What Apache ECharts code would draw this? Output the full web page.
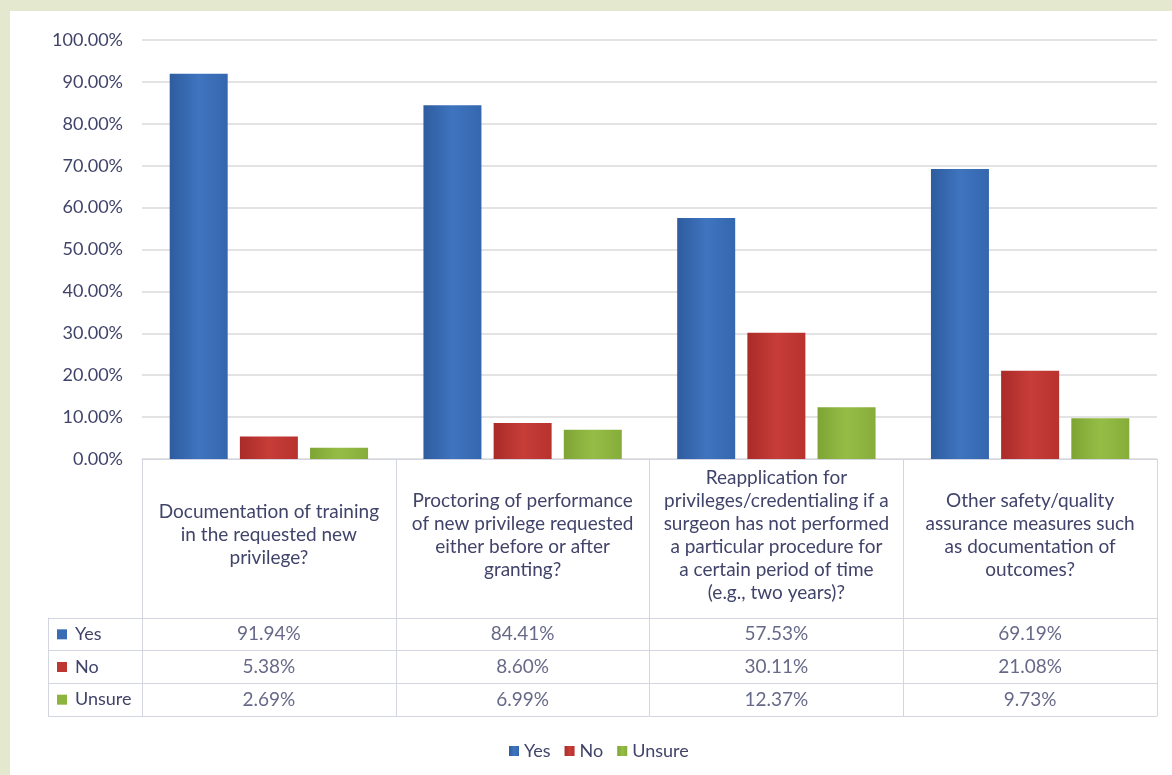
<!DOCTYPE html>
<html>
<head>
<meta charset="utf-8">
<script src="https://cdn.jsdelivr.net/npm/echarts@6/dist/echarts.min.js"></script>
<style>
  html, body { margin: 0; padding: 0; background: #e3e8cf; }
  #chart { position: absolute; left: 10px; top: 11px; width: 1162px; height: 764px; background: #ffffff; }
</style>
</head>
<body>
<div id="chart"></div>
<script>
// Survey questions (category header cells, wrapped as printed)
const categories = [
  'Documentation of training\nin the requested new\nprivilege?',
  'Proctoring of performance\nof new privilege requested\neither before or after\ngranting?',
  'Reapplication for\nprivileges/credentialing if a\nsurgeon has not performed\na particular procedure for\na certain period of time\n(e.g., two years)?',
  'Other safety/quality\nassurance measures such\nas documentation of\noutcomes?'
];
const seriesNames = ['Yes', 'No', 'Unsure'];
const yesValues = [91.94, 84.41, 57.53, 69.19];
const noValues = [5.38, 8.60, 30.11, 21.08];
const unsureValues = [2.69, 6.99, 12.37, 9.73];
const yTicks = [0, 10, 20, 30, 40, 50, 60, 70, 80, 90, 100];

const seriesValues = [yesValues, noValues, unsureValues];
const colors = ['#3a6cb4', '#be3632', '#8cb43e'];
const gradients = [
  ['#2e5c9f', '#3f74bf', '#3467ae'],
  ['#a92b28', '#c73d38', '#b8322e'],
  ['#7ea534', '#95bd46', '#86ad3a']
];
const textColor = '#41446a';
const borderColor = '#d3d6e0';
const fontFamily = 'Lato, "Open Sans", sans-serif';
const fmt = v => v.toFixed(2) + '%';

const chart = echarts.init(document.getElementById('chart'));

const barSeries = seriesNames.map((name, i) => ({
  name: name,
  type: 'bar',
  xAxisIndex: 0,
  yAxisIndex: 0,
  barWidth: 58,
  barGap: '21%',
  data: seriesValues[i],
  itemStyle: {
    color: new echarts.graphic.LinearGradient(0, 0, 1, 0, [
      { offset: 0, color: gradients[i][0] },
      { offset: 0.5, color: gradients[i][1] },
      { offset: 1, color: gradients[i][2] }
    ])
  }
}));

// Data table under the chart: one text cell per value
const tableData = [];
seriesValues.forEach((vals, r) => {
  vals.forEach((v, c) => tableData.push([c, r, v]));
});

const rich = {};
seriesNames.forEach((n, i) => {
  rich['s' + i] = { width: 10, height: 10, backgroundColor: colors[i] };
});
rich.t = { fontSize: 18, color: textColor, fontFamily: fontFamily, padding: [0, 0, 0, 8] };

chart.setOption({
  animation: false,
  textStyle: { fontFamily: fontFamily },
  legend: {
    data: seriesNames,
    left: 494,
    top: 726,
    icon: 'rect',
    itemWidth: 10,
    itemHeight: 10,
    itemGap: 14,
    textStyle: { fontSize: 18, color: textColor, fontFamily: fontFamily }
  },
  grid: [
    { left: 132, right: 15, top: 29, bottom: 316 },
    { left: 132, right: 15, top: 607, height: 98 }
  ],
  xAxis: [
    {
      type: 'category',
      gridIndex: 0,
      data: categories,
      axisLine: { show: true, lineStyle: { color: borderColor, width: 1 } },
      axisTick: { show: true, length: 159, lineStyle: { color: borderColor } },
      axisLabel: {
        interval: 0,
        margin: 76,
        verticalAlign: 'middle',
        align: 'center',
        fontSize: 19,
        lineHeight: 23,
        color: textColor,
        fontFamily: fontFamily
      }
    },
    {
      type: 'category',
      gridIndex: 1,
      position: 'top',
      data: categories,
      axisLine: { show: true, lineStyle: { color: borderColor } },
      axisTick: { show: false },
      axisLabel: { show: false },
      splitLine: { show: true, interval: 0, lineStyle: { color: borderColor } }
    }
  ],
  yAxis: [
    {
      type: 'value',
      gridIndex: 0,
      min: yTicks[0],
      max: yTicks[yTicks.length - 1],
      interval: 10,
      axisLine: { show: false },
      axisTick: { show: false },
      axisLabel: {
        margin: 19,
        fontSize: 18,
        color: textColor,
        fontFamily: fontFamily,
        formatter: v => fmt(v)
      },
      splitLine: { lineStyle: { color: '#dadada', width: 1.5 } }
    },
    {
      type: 'category',
      gridIndex: 1,
      inverse: true,
      data: seriesNames,
      axisLine: { show: true, lineStyle: { color: borderColor } },
      axisTick: { show: true, length: 94, interval: 0, lineStyle: { color: borderColor } },
      axisLabel: {
        interval: 0,
        margin: 85,
        align: 'left',
        formatter: (v, idx) => '{s' + idx + '|}{t|' + v + '}',
        rich: rich
      },
      splitLine: { show: true, interval: 0, lineStyle: { color: borderColor } }
    },
    {
      type: 'category',
      gridIndex: 1,
      inverse: true,
      position: 'left',
      offset: 94,
      data: seriesNames,
      axisLine: { show: true, lineStyle: { color: borderColor } },
      axisTick: { show: false },
      axisLabel: { show: false }
    }
  ],
  series: barSeries.concat([
    {
      type: 'scatter',
      xAxisIndex: 1,
      yAxisIndex: 1,
      symbolSize: 0,
      silent: true,
      data: tableData,
      label: {
        show: true,
        position: 'inside',
        fontSize: 19,
        color: textColor,
        fontFamily: fontFamily,
        formatter: p => fmt(p.value[2])
      }
    }
  ])
});
</script>
</body>
</html>
